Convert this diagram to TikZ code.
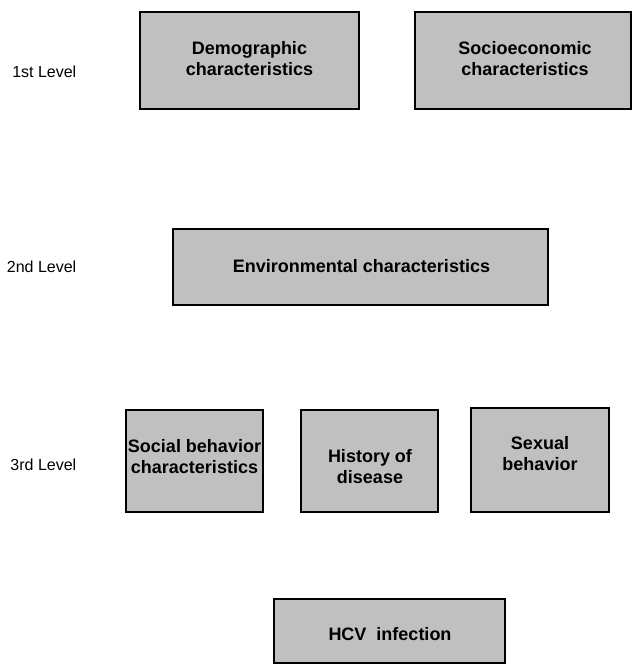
\documentclass[tikz,border=0pt]{standalone}
\usepackage{fontspec}
\setmainfont{Liberation Sans}
\definecolor{boxgray}{HTML}{C0C0C0}
\begin{document}
\begin{tikzpicture}[x=1pt,y=-1pt]
\tikzset{
  box/.style={draw=black, line width=1.5pt, fill=boxgray, inner sep=0pt},
  btext/.style={font=\fontsize{18}{21.5}\selectfont\bfseries, align=center, inner sep=0pt},
  lvl/.style={font=\fontsize{16}{19}\selectfont, inner sep=0pt, anchor=base east}
}
\useasboundingbox (0,0) rectangle (634,664);
% level labels
\node[lvl] (l1) at (76.5,77.5) {1st Level};
\node[lvl] (l2) at (76.5,272.5) {2nd Level};
\node[lvl] (l3) at (76.5,470.5) {3rd Level};
% boxes
\node[box, minimum width=219pt, minimum height=97pt] (demo) at (249.5,60.5) {};
\node[box, minimum width=216pt, minimum height=97pt] (socio) at (523,60.5) {};
\node[box, minimum width=375pt, minimum height=76pt] (env) at (360.5,267) {};
\node[box, minimum width=137pt, minimum height=102pt] (social) at (194.5,461) {};
\node[box, minimum width=137pt, minimum height=102pt] (hist) at (369.5,461) {};
\node[box, minimum width=138pt, minimum height=104pt] (sex) at (540,460) {};
\node[box, minimum width=231pt, minimum height=64pt] (hcv) at (389.5,631) {};
% texts
\node[btext] (tdemo) at (249.5,58.5) {Demographic\\characteristics};
\node[btext] (tsocio) at (525,58.5) {Socioeconomic\\characteristics};
\node[btext] (tenv) at (361.5,266) {Environmental characteristics};
\node[btext] (tsocial) at (194.5,456.5) {Social behavior\\characteristics};
\node[btext] (thist) at (370,466.5) {History of\\disease};
\node[btext] (tsex) at (540,453.5) {Sexual\\behavior};
\node[btext] (thcv) at (390,634) {HCV\ \ infection};
\end{tikzpicture}
\end{document}
